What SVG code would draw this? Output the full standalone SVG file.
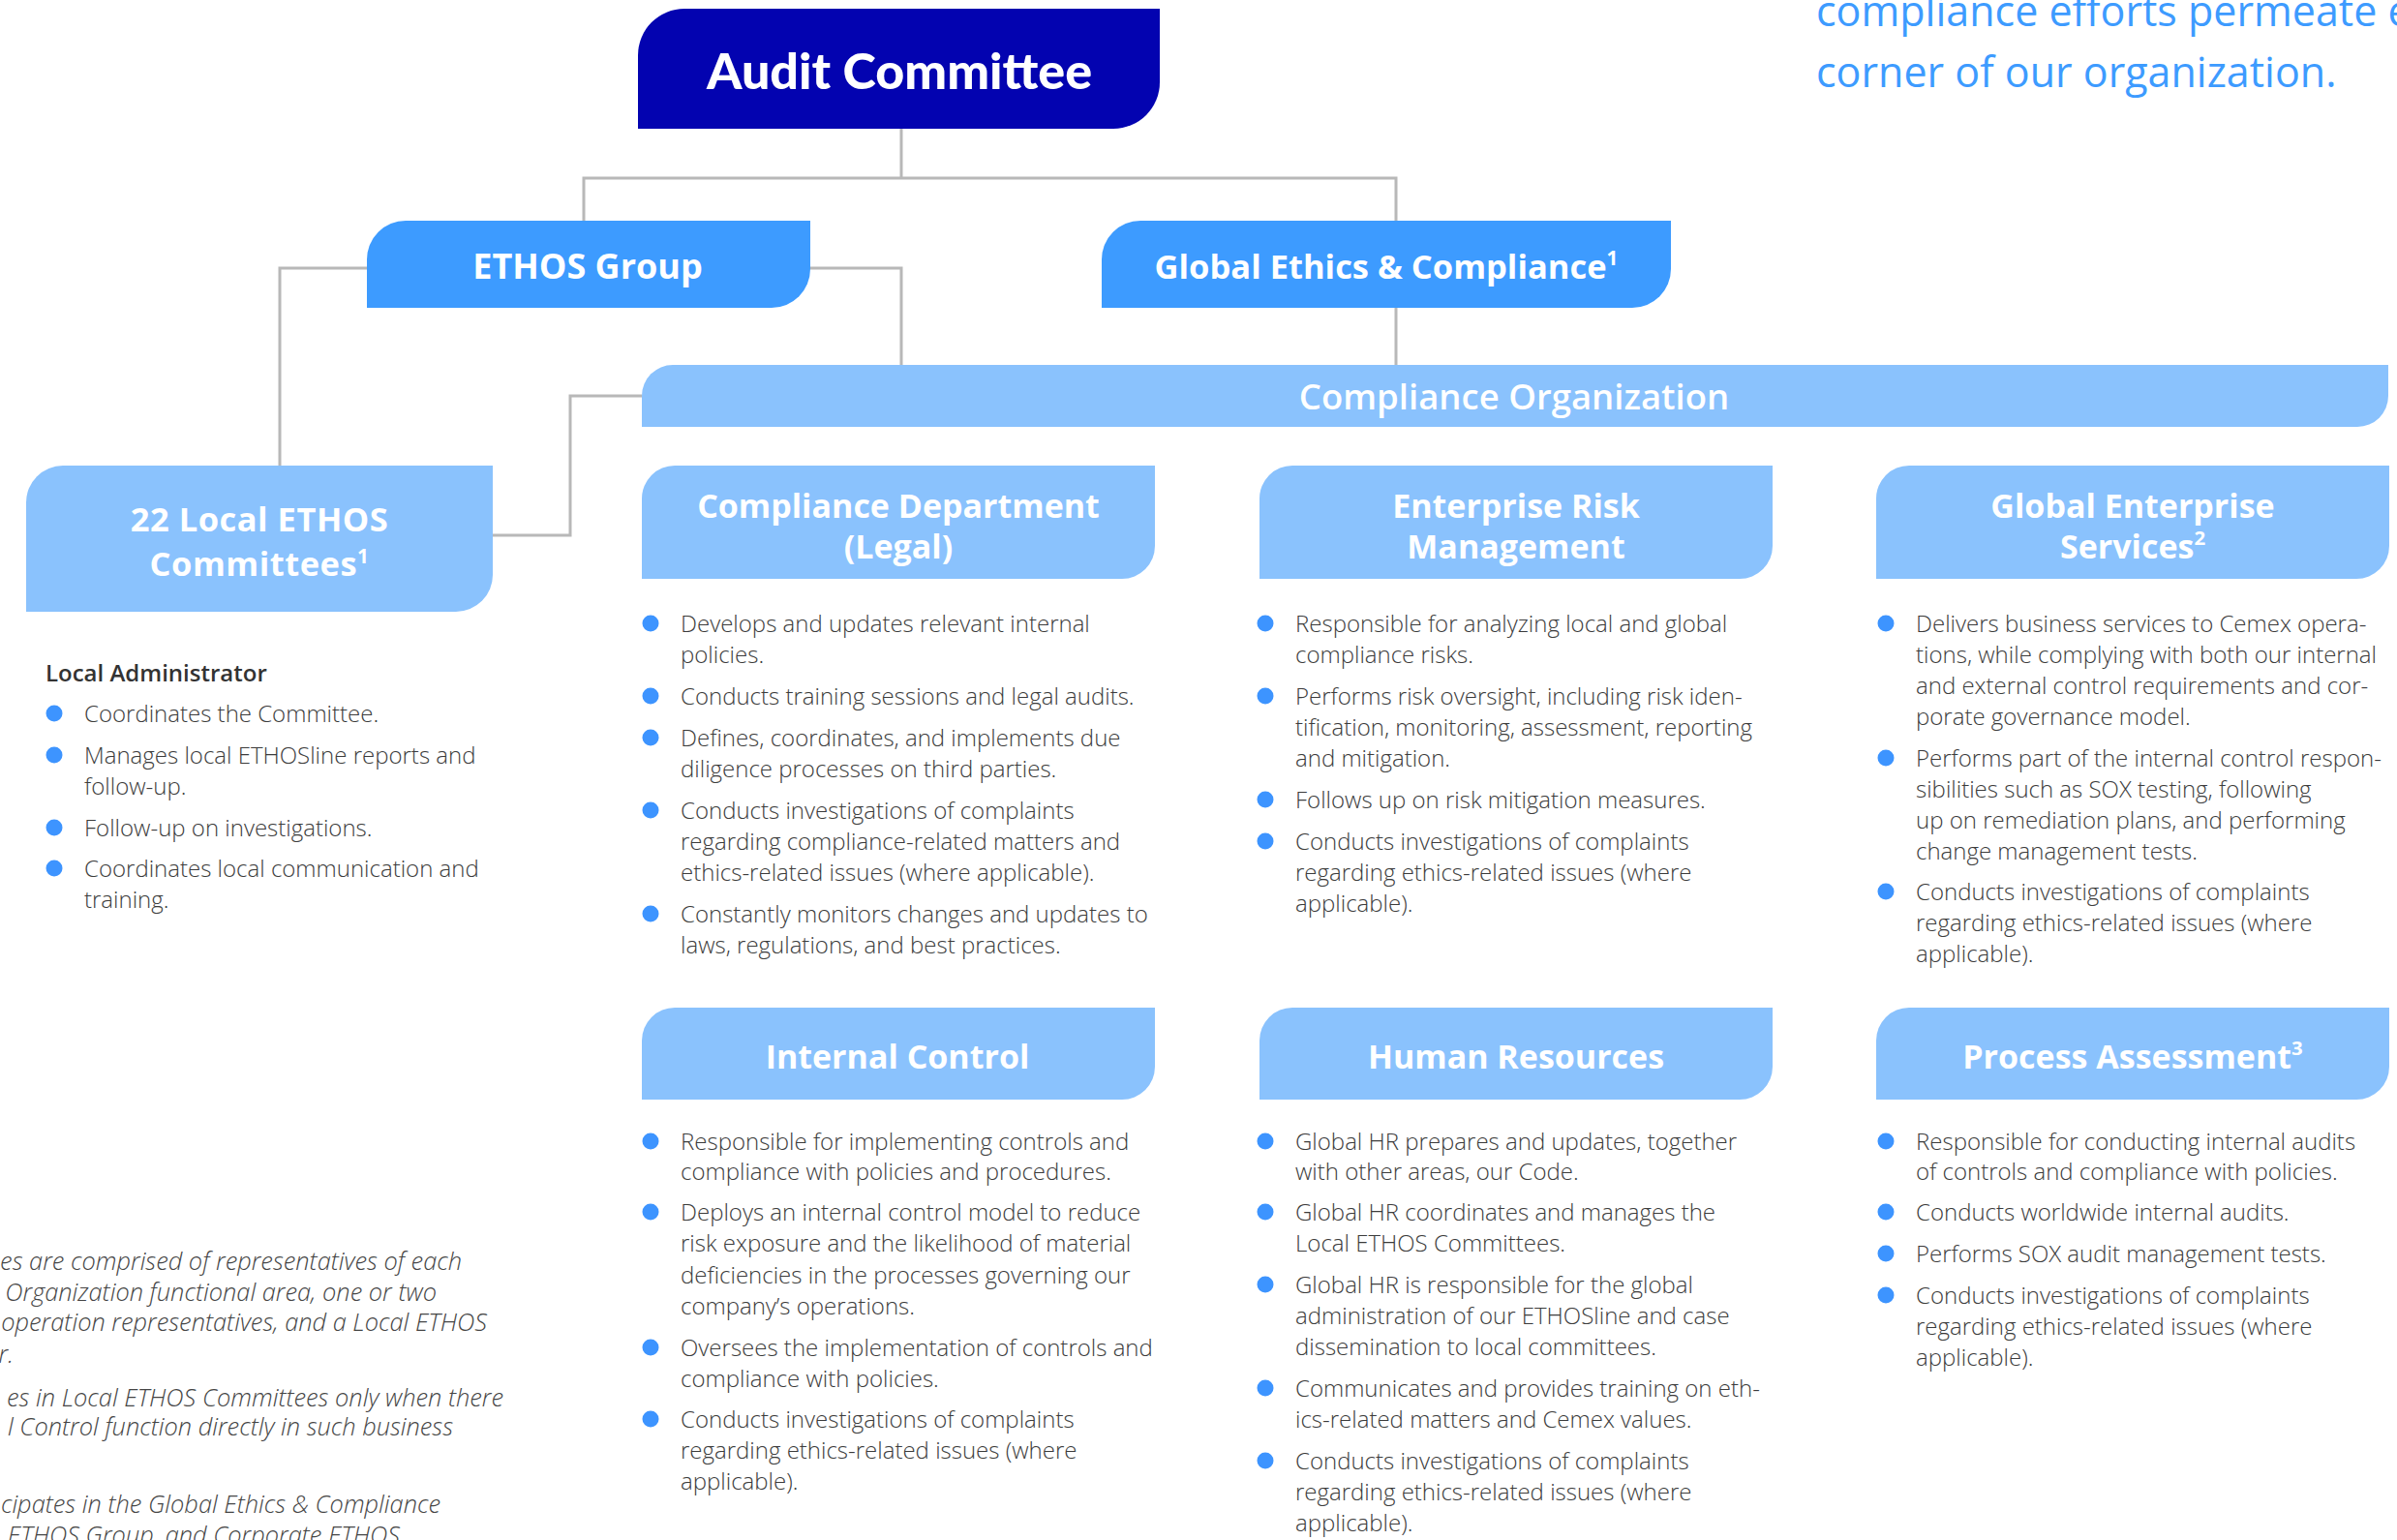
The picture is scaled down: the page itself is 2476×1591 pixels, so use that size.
<svg xmlns="http://www.w3.org/2000/svg" width="2476" height="1591" viewBox="0 0 2476 1591">
<style>
.bg{fill:#ffffff}
.conn{fill:none;stroke:#b8b8b8;stroke-width:3}
.dark{fill:#0303b0}
.mid{fill:#3d9bff}
.light{fill:#8ac2fd}
.ttl{font-family:"Open Sans","Liberation Sans",sans-serif;font-weight:700;fill:#ffffff;text-anchor:middle}
.ttl-top{font-family:Lato,"Open Sans",sans-serif;font-weight:900;fill:#ffffff;text-anchor:middle}
.ttl-org{font-family:"Open Sans","Liberation Sans",sans-serif;font-weight:600;fill:#ffffff;text-anchor:middle}
.body{font-family:"Open Sans","Liberation Sans",sans-serif;font-weight:300;font-size:24px;fill:#3c3c3c}
.head{font-family:"Open Sans","Liberation Sans",sans-serif;font-weight:600;font-size:24px;fill:#333333}
.foot{font-family:"Open Sans","Liberation Sans",sans-serif;font-weight:300;font-style:italic;font-size:25.4px;fill:#454545;text-anchor:end}
.quote{font-family:"Open Sans","Liberation Sans",sans-serif;font-weight:400;font-size:43px;fill:#3d9bff}
.dot{fill:#3d94ff}
.sup{font-size:60%}
</style>
<rect class="bg" x="0" y="0" width="2476" height="1591"/>

<g id="connectors">
<path class="conn" d="M931,133 V184"/>
<path class="conn" d="M603,228 V184 H1442 V228"/>
<path class="conn" d="M379,277 H289 V481"/>
<path class="conn" d="M837,277 H931 V377"/>
<path class="conn" d="M1442,318 V377"/>
<path class="conn" d="M663,409 H589 V553 H509"/>
</g>

<g id="audit-committee">
<path class="dark" d="M707,9 H1198 V85 A48,48 0 0 1 1150,133 H659 V57 A48,48 0 0 1 707,9 Z"/>
<text class="ttl-top" x="929" y="92" font-size="52">Audit Committee</text>
</g>

<g id="ethos-group">
<path class="mid" d="M419,228 H837 V278 A40,40 0 0 1 797,318 H379 V268 A40,40 0 0 1 419,228 Z"/>
<text class="ttl" x="607" y="288" font-size="36">ETHOS Group</text>
</g>

<g id="global-ethics-compliance">
<path class="mid" d="M1178,228 H1726 V278 A40,40 0 0 1 1686,318 H1138 V268 A40,40 0 0 1 1178,228 Z"/>
<text class="ttl" x="1432" y="288" font-size="34.5">Global Ethics &amp; Compliance<tspan class="sup" dy="-14">1</tspan></text>
</g>

<g id="compliance-organization">
<path class="light" d="M695,377 H2467 V409 A32,32 0 0 1 2435,441 H663 V409 A32,32 0 0 1 695,377 Z"/>
<text class="ttl-org" x="1564" y="423" font-size="36.5">Compliance Organization</text>
</g>

<g id="local-ethos-committees">
<path class="light" d="M65,481 H509 V594 A38,38 0 0 1 471,632 H27 V519 A38,38 0 0 1 65,481 Z"/>
<text class="ttl" x="268" y="549" font-size="34.5" letter-spacing="0.5">22 Local ETHOS</text>
<text class="ttl" x="268" y="595" font-size="34.5" letter-spacing="0.5">Committees<tspan class="sup" dy="-13">1</tspan></text>
<text class="head" x="47" y="704">Local Administrator</text>
<circle class="dot" cx="56" cy="737" r="8.5"/>
<circle class="dot" cx="56" cy="780" r="8.5"/>
<circle class="dot" cx="56" cy="855" r="8.5"/>
<circle class="dot" cx="56" cy="897" r="8.5"/>
<text class="body" x="87" y="746">Coordinates the Committee.</text>
<text class="body" x="87" y="789">Manages local ETHOSline reports and</text>
<text class="body" x="87" y="821">follow-up.</text>
<text class="body" x="87" y="864">Follow-up on investigations.</text>
<text class="body" x="87" y="906">Coordinates local communication and</text>
<text class="body" x="87" y="938">training.</text>
</g>

<g id="compliance-department">
<path class="light" d="M697,481 H1193 V564 A34,34 0 0 1 1159,598 H663 V515 A34,34 0 0 1 697,481 Z"/>
<text class="ttl" x="928" y="535" font-size="34">Compliance Department</text>
<text class="ttl" x="928" y="577" font-size="34">(Legal)</text>
<circle class="dot" cx="672" cy="644" r="8.5"/>
<circle class="dot" cx="672" cy="719" r="8.5"/>
<circle class="dot" cx="672" cy="762" r="8.5"/>
<circle class="dot" cx="672" cy="837" r="8.5"/>
<circle class="dot" cx="672" cy="944" r="8.5"/>
<text class="body" x="703" y="653">Develops and updates relevant internal</text>
<text class="body" x="703" y="685">policies.</text>
<text class="body" x="703" y="728">Conducts training sessions and legal audits.</text>
<text class="body" x="703" y="771">Defines, coordinates, and implements due</text>
<text class="body" x="703" y="803">diligence processes on third parties.</text>
<text class="body" x="703" y="846">Conducts investigations of complaints</text>
<text class="body" x="703" y="878">regarding compliance-related matters and</text>
<text class="body" x="703" y="910">ethics-related issues (where applicable).</text>
<text class="body" x="703" y="953">Constantly monitors changes and updates to</text>
<text class="body" x="703" y="985">laws, regulations, and best practices.</text>
</g>

<g id="enterprise-risk-management">
<path class="light" d="M1335,481 H1831 V564 A34,34 0 0 1 1797,598 H1301 V515 A34,34 0 0 1 1335,481 Z"/>
<text class="ttl" x="1566" y="535" font-size="34">Enterprise Risk</text>
<text class="ttl" x="1566" y="577" font-size="34">Management</text>
<circle class="dot" cx="1307" cy="644" r="8.5"/>
<circle class="dot" cx="1307" cy="719" r="8.5"/>
<circle class="dot" cx="1307" cy="826" r="8.5"/>
<circle class="dot" cx="1307" cy="869" r="8.5"/>
<text class="body" x="1338" y="653">Responsible for analyzing local and global</text>
<text class="body" x="1338" y="685">compliance risks.</text>
<text class="body" x="1338" y="728">Performs risk oversight, including risk iden-</text>
<text class="body" x="1338" y="760">tification, monitoring, assessment, reporting</text>
<text class="body" x="1338" y="792">and mitigation.</text>
<text class="body" x="1338" y="835">Follows up on risk mitigation measures.</text>
<text class="body" x="1338" y="878">Conducts investigations of complaints</text>
<text class="body" x="1338" y="910">regarding ethics-related issues (where</text>
<text class="body" x="1338" y="942">applicable).</text>
</g>

<g id="global-enterprise-services">
<path class="light" d="M1972,481 H2468 V564 A34,34 0 0 1 2434,598 H1938 V515 A34,34 0 0 1 1972,481 Z"/>
<text class="ttl" x="2203" y="535" font-size="34">Global Enterprise</text>
<text class="ttl" x="2203" y="577" font-size="34">Services<tspan class="sup" dy="-14">2</tspan></text>
<circle class="dot" cx="1948" cy="644" r="8.5"/>
<circle class="dot" cx="1948" cy="783" r="8.5"/>
<circle class="dot" cx="1948" cy="921" r="8.5"/>
<text class="body" x="1979" y="653">Delivers business services to Cemex opera-</text>
<text class="body" x="1979" y="685">tions, while complying with both our internal</text>
<text class="body" x="1979" y="717">and external control requirements and cor-</text>
<text class="body" x="1979" y="749">porate governance model.</text>
<text class="body" x="1979" y="792">Performs part of the internal control respon-</text>
<text class="body" x="1979" y="824">sibilities such as SOX testing, following</text>
<text class="body" x="1979" y="856">up on remediation plans, and performing</text>
<text class="body" x="1979" y="888">change management tests.</text>
<text class="body" x="1979" y="930">Conducts investigations of complaints</text>
<text class="body" x="1979" y="962">regarding ethics-related issues (where</text>
<text class="body" x="1979" y="994">applicable).</text>
</g>

<g id="internal-control">
<path class="light" d="M697,1041 H1193 V1102 A34,34 0 0 1 1159,1136 H663 V1075 A34,34 0 0 1 697,1041 Z"/>
<text class="ttl" x="927" y="1104" font-size="34">Internal Control</text>
<circle class="dot" cx="672" cy="1179" r="8.5"/>
<circle class="dot" cx="672" cy="1252" r="8.5"/>
<circle class="dot" cx="672" cy="1392" r="8.5"/>
<circle class="dot" cx="672" cy="1466" r="8.5"/>
<text class="body" x="703" y="1188">Responsible for implementing controls and</text>
<text class="body" x="703" y="1219">compliance with policies and procedures.</text>
<text class="body" x="703" y="1261">Deploys an internal control model to reduce</text>
<text class="body" x="703" y="1293">risk exposure and the likelihood of material</text>
<text class="body" x="703" y="1326">deficiencies in the processes governing our</text>
<text class="body" x="703" y="1358">company’s operations.</text>
<text class="body" x="703" y="1401">Oversees the implementation of controls and</text>
<text class="body" x="703" y="1433">compliance with policies.</text>
<text class="body" x="703" y="1475">Conducts investigations of complaints</text>
<text class="body" x="703" y="1507">regarding ethics-related issues (where</text>
<text class="body" x="703" y="1539">applicable).</text>
</g>

<g id="human-resources">
<path class="light" d="M1335,1041 H1831 V1102 A34,34 0 0 1 1797,1136 H1301 V1075 A34,34 0 0 1 1335,1041 Z"/>
<text class="ttl" x="1566" y="1104" font-size="34">Human Resources</text>
<circle class="dot" cx="1307" cy="1179" r="8.5"/>
<circle class="dot" cx="1307" cy="1252" r="8.5"/>
<circle class="dot" cx="1307" cy="1327" r="8.5"/>
<circle class="dot" cx="1307" cy="1434" r="8.5"/>
<circle class="dot" cx="1307" cy="1509" r="8.5"/>
<text class="body" x="1338" y="1188">Global HR prepares and updates, together</text>
<text class="body" x="1338" y="1219">with other areas, our Code.</text>
<text class="body" x="1338" y="1261">Global HR coordinates and manages the</text>
<text class="body" x="1338" y="1293">Local ETHOS Committees.</text>
<text class="body" x="1338" y="1336">Global HR is responsible for the global</text>
<text class="body" x="1338" y="1368">administration of our ETHOSline and case</text>
<text class="body" x="1338" y="1400">dissemination to local committees.</text>
<text class="body" x="1338" y="1443">Communicates and provides training on eth-</text>
<text class="body" x="1338" y="1475">ics-related matters and Cemex values.</text>
<text class="body" x="1338" y="1518">Conducts investigations of complaints</text>
<text class="body" x="1338" y="1550">regarding ethics-related issues (where</text>
<text class="body" x="1338" y="1582">applicable).</text>
</g>

<g id="process-assessment">
<path class="light" d="M1972,1041 H2468 V1102 A34,34 0 0 1 2434,1136 H1938 V1075 A34,34 0 0 1 1972,1041 Z"/>
<text class="ttl" x="2203" y="1104" font-size="34">Process Assessment<tspan class="sup" dy="-14">3</tspan></text>
<circle class="dot" cx="1948" cy="1179" r="8.5"/>
<circle class="dot" cx="1948" cy="1252" r="8.5"/>
<circle class="dot" cx="1948" cy="1295" r="8.5"/>
<circle class="dot" cx="1948" cy="1338" r="8.5"/>
<text class="body" x="1979" y="1188">Responsible for conducting internal audits</text>
<text class="body" x="1979" y="1219">of controls and compliance with policies.</text>
<text class="body" x="1979" y="1261">Conducts worldwide internal audits.</text>
<text class="body" x="1979" y="1304">Performs SOX audit management tests.</text>
<text class="body" x="1979" y="1347">Conducts investigations of complaints</text>
<text class="body" x="1979" y="1379">regarding ethics-related issues (where</text>
<text class="body" x="1979" y="1411">applicable).</text>
</g>

<g id="quote">
<text class="quote" x="1876" y="27">compliance efforts permeate e</text>
<text class="quote" x="1876" y="90">corner of our organization.</text>
</g>

<g id="footnotes">
<text class="foot" x="477" y="1312">es are comprised of representatives of each</text>
<text class="foot" x="451" y="1344">Organization functional area, one or two</text>
<text class="foot" x="503" y="1375">operation representatives, and a Local ETHOS</text>
<text class="foot" x="14" y="1408">or.</text>
<text class="foot" x="520" y="1453">es in Local ETHOS Committees only when there</text>
<text class="foot" x="468" y="1483">l Control function directly in such business</text>
<text class="foot" x="455" y="1563">cipates in the Global Ethics &amp; Compliance</text>
<text class="foot" x="413" y="1595">ETHOS Group, and Corporate ETHOS</text>
</g>
</svg>
